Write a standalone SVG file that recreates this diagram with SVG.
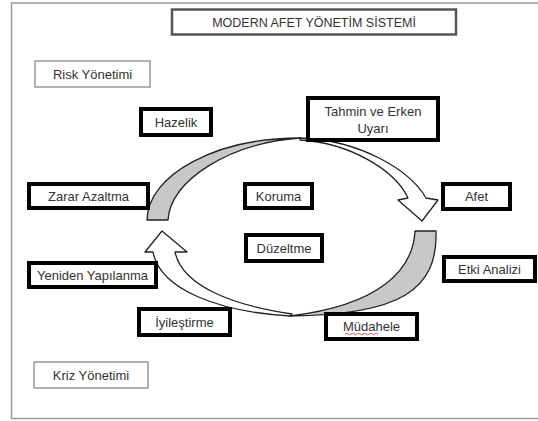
<svg xmlns="http://www.w3.org/2000/svg" width="538" height="421" viewBox="0 0 538 421">
  <style>
    .lbl { font-family: "Liberation Sans", Arial, sans-serif; font-size: 13px; fill: #333; text-anchor: middle; }
    .bold-box { fill: #fff; stroke: #000; stroke-width: 4; }
    .thin-box { fill: #fff; stroke: #999; stroke-width: 1.5; }
    .shade { fill: #c8c8c8; stroke: #222; stroke-width: 1.3; stroke-linejoin: round; }
    .face { fill: #fff; stroke: #222; stroke-width: 1.3; stroke-linejoin: round; }
  </style>

  <!-- page background and frame -->
  <rect x="0" y="0" width="538" height="421" fill="#fff"/>
  <path d="M540,3 H11.5 V418.5 H540" fill="none" stroke="#9a9a9a" stroke-width="1.5"/>

  <!-- cycle arrows -->
  <g id="connectors">
    <!-- upper curved arrow: shaded tail on the left, head pointing down at the right -->
    <path class="shade" d="M147,220 C148,175 215,138 300,138 C230,143 170,180 168,220 Z"/>
    <path class="face" d="M300,138 C360,140 410,170 426,198 L438,200 L422,221 L398,200 L408,198 C395,170 350,143 300,140 Z"/>
    <!-- lower curved arrow: shaded tail on the right, head pointing up at the left -->
    <path class="shade" d="M415,231 L436,231 C438,290 400,315 290,316 C380,305 413,270 415,231 Z"/>
    <path class="face" d="M290,316 C220,312 160,290 153,252 L145,252 L162,231 L187,252 L175,252 C182,285 230,305 292,314 Z"/>
  </g>

  <g id="title">
    <rect x="172" y="9.5" width="284" height="25" fill="#fff" stroke="#555" stroke-width="2.5"/>
    <text class="lbl" x="314" y="26.5" style="font-size:12.5px">MODERN AFET YÖNETİM SİSTEMİ</text>
  </g>

  <g id="risk-yonetimi">
    <rect class="thin-box" x="35" y="61" width="115" height="26"/>
    <text class="lbl" x="92.5" y="78.5">Risk Yönetimi</text>
  </g>

  <g id="hazirlik">
    <rect class="bold-box" x="141" y="109" width="70" height="26"/>
    <text class="lbl" x="176" y="126.5">Hazelik</text>
  </g>

  <g id="tahmin">
    <rect class="bold-box" x="308" y="98" width="130" height="42"/>
    <text class="lbl" x="373" y="116">Tahmin ve Erken</text>
    <text class="lbl" x="373" y="133">Uyarı</text>
  </g>

  <g id="zarar-azaltma">
    <rect class="bold-box" x="29" y="184" width="119" height="24"/>
    <text class="lbl" x="88.5" y="200.5">Zarar Azaltma</text>
  </g>

  <g id="koruma">
    <rect class="bold-box" x="245" y="184" width="67" height="24"/>
    <text class="lbl" x="278.5" y="200.5">Koruma</text>
  </g>

  <g id="duzeltme">
    <rect class="bold-box" x="246" y="235" width="76" height="26"/>
    <text class="lbl" x="284" y="252.5">Düzeltme</text>
  </g>

  <g id="afet">
    <rect class="bold-box" x="443" y="184" width="67" height="25"/>
    <text class="lbl" x="476.5" y="201">Afet</text>
  </g>

  <g id="etki-analizi">
    <rect class="bold-box" x="444" y="257" width="91" height="24"/>
    <text class="lbl" x="489.5" y="273.5">Etki Analizi</text>
  </g>

  <g id="yeniden-yapilanma">
    <rect class="bold-box" x="29" y="263" width="127" height="24"/>
    <text class="lbl" x="92.5" y="279.5">Yeniden Yapılanma</text>
  </g>

  <g id="iyilestirme">
    <rect class="bold-box" x="139" y="309" width="91" height="26"/>
    <text class="lbl" x="184.5" y="326.5">İyileştirme</text>
  </g>

  <g id="mudahale">
    <rect class="bold-box" x="326" y="314" width="91" height="25"/>
    <text class="lbl" x="371.5" y="331">Müdahele</text>
    <path d="M345,334 q1.5,-1.5 3,0 t3,0 t3,0 t3,0 t3,0 t3,0 t3,0 t3,0 t3,0 t3,0 t3,0" fill="none" stroke="#e03c3c" stroke-width="0.9"/>
  </g>

  <g id="kriz-yonetimi">
    <rect class="thin-box" x="34" y="362" width="114" height="26"/>
    <text class="lbl" x="91" y="379.5">Kriz Yönetimi</text>
  </g>
</svg>
